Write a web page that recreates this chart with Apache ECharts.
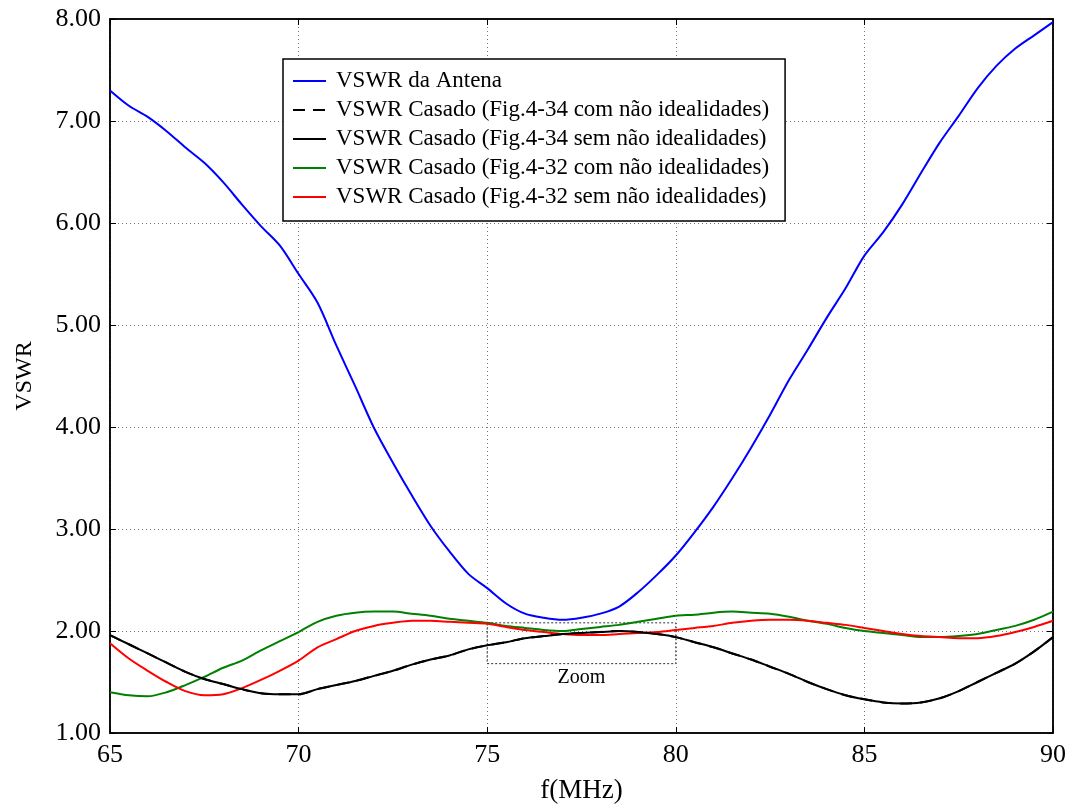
<!DOCTYPE html>
<html>
<head>
<meta charset="utf-8">
<script src="https://cdn.jsdelivr.net/npm/echarts@6/dist/echarts.min.js"></script>
<style>
  html, body { margin: 0; padding: 0; background: #fff; }
  #chart { width: 1075px; height: 809px; }
</style>
</head>
<body>
<div id="chart"></div>
<script>
// Frequency sweep (MHz), 0.5 MHz step
const freq = [65,65.5,66,66.5,67,67.5,68,68.5,69,69.5,70,70.5,71,71.5,72,72.5,73,73.5,74,74.5,75,75.5,76,76.5,77,77.5,78,78.5,79,79.5,80,80.5,81,81.5,82,82.5,83,83.5,84,84.5,85,85.5,86,86.5,87,87.5,88,88.5,89,89.5,90];

// VSWR of the bare antenna
const vswrAntena = [7.30,7.15,7.04,6.90,6.74,6.59,6.40,6.18,5.97,5.78,5.50,5.22,4.80,4.40,3.99,3.65,3.33,3.03,2.78,2.56,2.42,2.27,2.17,2.13,2.11,2.13,2.17,2.24,2.38,2.55,2.74,2.97,3.22,3.50,3.80,4.12,4.46,4.76,5.07,5.36,5.68,5.91,6.18,6.49,6.79,7.05,7.32,7.54,7.71,7.84,7.97];

// Matched VSWR, Fig.4-34 network, with non-idealities
const vswr434Com = [1.96,1.87,1.78,1.69,1.60,1.53,1.48,1.43,1.39,1.38,1.38,1.43,1.47,1.51,1.56,1.61,1.67,1.72,1.76,1.82,1.86,1.89,1.93,1.95,1.97,1.98,1.99,2.00,1.99,1.97,1.94,1.89,1.84,1.78,1.72,1.65,1.58,1.50,1.43,1.37,1.33,1.30,1.29,1.30,1.34,1.41,1.50,1.59,1.68,1.80,1.94];

// Matched VSWR, Fig.4-34 network, ideal components
const vswr434Sem = [1.96,1.87,1.78,1.69,1.60,1.53,1.48,1.43,1.39,1.38,1.38,1.43,1.47,1.51,1.56,1.61,1.67,1.72,1.76,1.82,1.86,1.89,1.93,1.95,1.97,1.98,1.99,2.00,1.99,1.97,1.94,1.89,1.84,1.78,1.72,1.65,1.58,1.50,1.43,1.37,1.33,1.30,1.29,1.30,1.34,1.41,1.50,1.59,1.68,1.80,1.94];

// Matched VSWR, Fig.4-32 network, with non-idealities
const vswr432Com = [1.40,1.37,1.36,1.40,1.47,1.55,1.64,1.71,1.81,1.90,1.99,2.09,2.15,2.18,2.19,2.19,2.17,2.15,2.12,2.10,2.08,2.05,2.03,2.01,2.00,2.02,2.04,2.06,2.09,2.12,2.15,2.16,2.18,2.19,2.18,2.17,2.14,2.10,2.07,2.03,2.00,1.98,1.96,1.94,1.94,1.95,1.97,2.01,2.05,2.11,2.19];

// Matched VSWR, Fig.4-32 network, ideal components
const vswr432Sem = [1.88,1.73,1.61,1.50,1.41,1.37,1.38,1.44,1.52,1.61,1.71,1.84,1.92,2.00,2.05,2.08,2.10,2.10,2.09,2.08,2.07,2.04,2.01,1.99,1.97,1.96,1.96,1.97,1.98,1.99,2.01,2.03,2.05,2.08,2.10,2.11,2.11,2.10,2.08,2.06,2.03,2.00,1.97,1.95,1.94,1.93,1.93,1.95,1.99,2.04,2.10];

// Zoom region: [fStart, fEnd] x [vLow, vHigh]
const zoomF = [75, 80];
const zoomV = [1.68, 2.08];

const seriesNames = [
  'VSWR da Antena',
  'VSWR Casado (Fig.4-34 com não idealidades)',
  'VSWR Casado (Fig.4-34 sem não idealidades)',
  'VSWR Casado (Fig.4-32 com não idealidades)',
  'VSWR Casado (Fig.4-32 sem não idealidades)'
];

const pairs = arr => freq.map((f, i) => [f, arr[i]]);
const FONT = '"Liberation Serif", "Times New Roman", serif';

const chart = echarts.init(document.getElementById('chart'), null, { renderer: 'canvas' });

function lineSeries(name, data, color, type, z) {
  return {
    name: name,
    type: 'line',
    data: pairs(data),
    showSymbol: false,
    symbol: 'none',
    smooth: 0.3,
    z: z,
    lineStyle: { color: color, width: 2, type: type },
    itemStyle: { color: color },
    emphasis: { disabled: true }
  };
}

const zoomSeries = lineSeries(seriesNames[1], vswr434Com, '#000000', [12, 8], 3);
zoomSeries.markArea = {
  silent: true,
  itemStyle: { color: 'rgba(0,0,0,0)', borderColor: '#333', borderWidth: 1, borderType: [2, 2] },
  label: { show: true, position: 'bottom', distance: 4, color: '#000', fontFamily: FONT, fontSize: 20 },
  data: [[{ name: 'Zoom', coord: [zoomF[0], zoomV[1]] }, { coord: [zoomF[1], zoomV[0]] }]]
};

const tickLabel = { fontFamily: FONT, fontSize: 26, color: '#000' };

const option = {
  backgroundColor: '#ffffff',
  animation: false,
  textStyle: { fontFamily: FONT, color: '#000' },
  grid: { left: 110, right: 22, top: 19, bottom: 75, show: true, borderColor: '#000', borderWidth: 1.5, backgroundColor: 'transparent' },
  legend: {
    orient: 'vertical',
    left: 283,
    top: 59,
    padding: [10, 16, 12, 9],
    itemGap: 5,
    itemWidth: 33,
    itemHeight: 14,
    itemStyle: { opacity: 0 },
    backgroundColor: '#fff',
    borderColor: '#000',
    borderWidth: 1.5,
    borderRadius: 0,
    textStyle: { fontFamily: FONT, fontSize: 23, color: '#000', lineHeight: 24, padding: [0, 0, 0, 5] },
    data: seriesNames
  },
  xAxis: [{
    type: 'value',
    min: 65, max: 90, interval: 5,
    name: 'f(MHz)',
    nameLocation: 'middle',
    nameGap: 44,
    nameTextStyle: { fontFamily: FONT, fontSize: 27, color: '#000' },
    axisLine: { show: true, lineStyle: { color: '#000', width: 1.5 } },
    axisTick: { show: true, inside: true, length: 6, lineStyle: { color: '#000' } },
    axisLabel: Object.assign({ margin: 9 }, tickLabel),
    splitLine: { show: true, lineStyle: { color: '#777', type: [1, 3], width: 1 } }
  }, {
    type: 'value', position: 'top',
    min: 65, max: 90, interval: 5,
    axisLine: { show: true, lineStyle: { color: '#000', width: 1.5 } },
    axisTick: { show: true, inside: true, length: 6, lineStyle: { color: '#000' } },
    axisLabel: { show: false },
    splitLine: { show: false }
  }],
  yAxis: [{
    type: 'value',
    min: 1, max: 8, interval: 1,
    name: 'VSWR',
    nameLocation: 'middle',
    nameGap: 73,
    nameRotate: 90,
    nameTextStyle: { fontFamily: FONT, fontSize: 24, color: '#000' },
    axisLine: { show: true, lineStyle: { color: '#000', width: 1.5 } },
    axisTick: { show: true, inside: true, length: 6, lineStyle: { color: '#000' } },
    axisLabel: Object.assign({ margin: 9, formatter: v => v.toFixed(2) }, tickLabel),
    splitLine: { show: true, lineStyle: { color: '#777', type: [1, 3], width: 1 } }
  }, {
    type: 'value', position: 'right',
    min: 1, max: 8, interval: 1,
    axisLine: { show: true, lineStyle: { color: '#000', width: 1.5 } },
    axisTick: { show: true, inside: true, length: 6, lineStyle: { color: '#000' } },
    axisLabel: { show: false },
    splitLine: { show: false }
  }],
  series: [
    lineSeries(seriesNames[0], vswrAntena, '#0000ff', 'solid', 5),
    zoomSeries,
    lineSeries(seriesNames[2], vswr434Sem, '#000000', 'solid', 4),
    lineSeries(seriesNames[3], vswr432Com, '#008000', 'solid', 2),
    lineSeries(seriesNames[4], vswr432Sem, '#ff0000', 'solid', 3)
  ]
};

chart.setOption(option);
</script>
</body>
</html>
